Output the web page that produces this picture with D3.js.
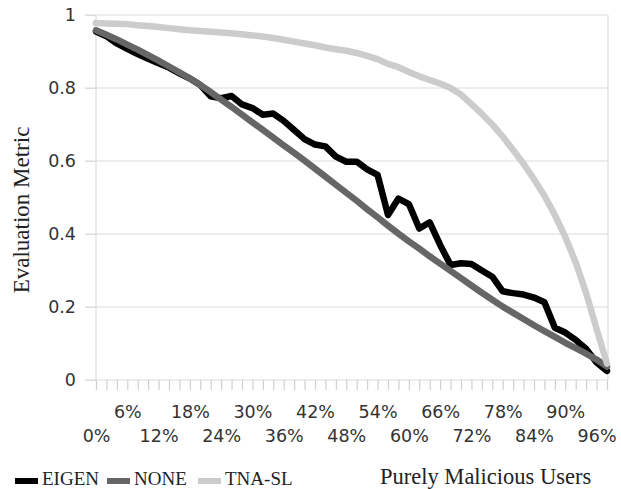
<!DOCTYPE html>
<html>
<head>
<meta charset="utf-8">
<script src="https://cdn.jsdelivr.net/npm/d3@7"></script>
<style>
  body { margin: 0; background: #fff; }
  svg { display: block; }
</style>
</head>
<body>
<svg id="chart"></svg>
<script>
// x categories: share of purely malicious users, 0% .. 98%
var categories = d3.range(0, 100, 2).map(function (p) { return p + "%"; });

var eigen = [0.955, 0.942, 0.922, 0.907, 0.893, 0.880, 0.868, 0.856, 0.840, 0.826,
  0.808, 0.777, 0.772, 0.778, 0.755, 0.745, 0.727, 0.730, 0.710, 0.685,
  0.660, 0.645, 0.640, 0.612, 0.598, 0.598, 0.577, 0.562, 0.452, 0.497,
  0.482, 0.415, 0.432, 0.370, 0.315, 0.320, 0.318, 0.300, 0.283, 0.243,
  0.238, 0.234, 0.226, 0.213, 0.143, 0.130, 0.110, 0.085, 0.048, 0.025];

var none = [0.958, 0.946, 0.933, 0.919, 0.905, 0.890, 0.875, 0.859, 0.843, 0.826,
  0.808, 0.789, 0.768, 0.748, 0.727, 0.706, 0.685, 0.664, 0.643, 0.622,
  0.601, 0.579, 0.557, 0.535, 0.513, 0.491, 0.468, 0.446, 0.423, 0.401,
  0.380, 0.360, 0.339, 0.319, 0.299, 0.279, 0.259, 0.239, 0.220, 0.201,
  0.184, 0.167, 0.150, 0.134, 0.118, 0.102, 0.087, 0.072, 0.056, 0.037];

var tnasl = [0.978, 0.977, 0.976, 0.975, 0.972, 0.970, 0.967, 0.964, 0.961, 0.958,
  0.956, 0.954, 0.952, 0.950, 0.947, 0.944, 0.941, 0.937, 0.932, 0.927,
  0.922, 0.917, 0.911, 0.906, 0.902, 0.896, 0.888, 0.879, 0.866, 0.857,
  0.844, 0.832, 0.822, 0.812, 0.800, 0.782, 0.756, 0.729, 0.700, 0.667,
  0.630, 0.592, 0.550, 0.505, 0.452, 0.392, 0.322, 0.238, 0.140, 0.045];

var seriesNames = ["EIGEN", "NONE", "TNA-SL"];
var seriesColors = ["#000000", "#666666", "#cccccc"];
var yTicks = [0, 0.2, 0.4, 0.6, 0.8, 1];

var width = 621, height = 489;
// note: "top" is reserved on window, hence the plot* names
var plotLeft = 96, plotRight = 607, plotTop = 15, plotBottom = 380;

var svg = d3.select("#chart").attr("width", width).attr("height", height);

var x = d3.scalePoint().domain(categories).range([plotLeft, plotRight]);
var y = d3.scaleLinear().domain([0, 1]).range([plotBottom, plotTop]);

// horizontal grid
svg.append("g").selectAll("line").data(yTicks).enter().append("line")
  .attr("x1", plotLeft - 11).attr("x2", plotRight + 1)
  .attr("y1", function (d) { return y(d); })
  .attr("y2", function (d) { return y(d); })
  .attr("stroke", "#dcdcdc").attr("stroke-width", 1.2);

// frame verticals
svg.append("line").attr("x1", plotLeft).attr("x2", plotLeft).attr("y1", plotTop).attr("y2", plotBottom)
  .attr("stroke", "#dcdcdc").attr("stroke-width", 1.2);
svg.append("line").attr("x1", plotRight + 1).attr("x2", plotRight + 1).attr("y1", plotTop).attr("y2", plotBottom)
  .attr("stroke", "#dcdcdc").attr("stroke-width", 1.2);

// y axis labels
var yAxis = svg.append("g")
  .attr("transform", "translate(" + plotLeft + ",0)")
  .call(d3.axisLeft(y).tickValues(yTicks).tickSize(11).tickPadding(9)
    .tickFormat(function (d) { return d === 0 || d === 1 ? String(d) : d.toFixed(1); }));
yAxis.select(".domain").remove();
yAxis.selectAll(".tick line").attr("stroke", "#dcdcdc");
yAxis.selectAll("text")
  .style("font-family", "'DejaVu Sans'").style("font-size", "17.5px").attr("fill", "#333");

// x axis with staggered labels every 6%
var xAxis = svg.append("g")
  .attr("transform", "translate(0," + plotBottom + ")")
  .call(d3.axisBottom(x).tickSize(10)
    .tickFormat(function (d, i) { return i % 3 === 0 ? d : ""; }));
xAxis.select(".domain").remove();
xAxis.selectAll(".tick line").attr("stroke", "#d0d0d0").attr("stroke-width", 1.2);
xAxis.selectAll("text")
  .style("font-family", "'DejaVu Sans'").style("font-size", "17.5px").attr("fill", "#333")
  .attr("dy", 0)
  .attr("y", function (d, i) { return (i / 3) % 2 === 0 ? 62 : 38; });

// lines
var line = d3.line()
  .x(function (d, i) { return x(categories[i]); })
  .y(function (d) { return y(d); });

[eigen, none, tnasl].forEach(function (s, k) {
  svg.append("path")
    .datum(s)
    .attr("d", line)
    .attr("fill", "none")
    .attr("stroke", seriesColors[k])
    .attr("stroke-width", 6.5)
    .attr("stroke-linejoin", "round")
    .attr("stroke-linecap", "round");
});

// axis titles
svg.append("text")
  .attr("transform", "rotate(-90)")
  .attr("x", -210).attr("y", 29)
  .attr("text-anchor", "middle")
  .style("font-family", "'Liberation Serif'").style("font-size", "23px")
  .attr("fill", "#222")
  .text("Evaluation Metric");

svg.append("text")
  .attr("x", 380).attr("y", 484)
  .style("font-family", "'Liberation Serif'").style("font-size", "22.5px")
  .attr("fill", "#222")
  .text("Purely Malicious Users");

// legend
var legendX = [15, 107, 198];
var legend = svg.append("g").selectAll("g").data(seriesNames).enter().append("g")
  .attr("transform", function (d, i) { return "translate(" + legendX[i] + ",0)"; });
legend.append("rect")
  .attr("x", 0).attr("y", 478).attr("width", 23).attr("height", 6)
  .attr("fill", function (d, i) { return seriesColors[i]; });
legend.append("text")
  .attr("x", 27).attr("y", 485)
  .style("font-family", "'Liberation Serif'").style("font-size", "19px")
  .attr("fill", "#222")
  .text(function (d) { return d; });
</script>
</body>
</html>
